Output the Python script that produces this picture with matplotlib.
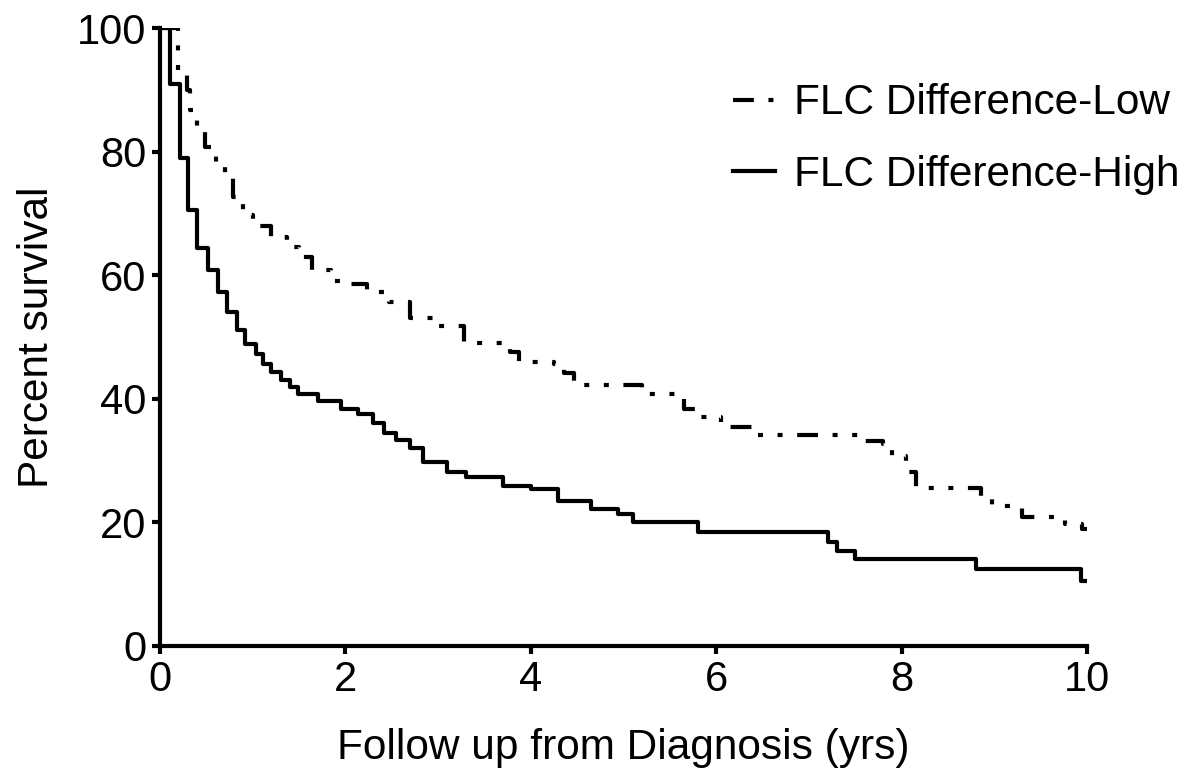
import matplotlib
matplotlib.use("Agg")
import matplotlib.pyplot as plt

plt.rcParams['font.family'] = ['Liberation Sans', 'DejaVu Sans']

# Kaplan-Meier step data (years, percent survival)
low_t = [0, 0.19, 0.29, 0.32, 0.40, 0.49, 0.60, 0.70, 0.79, 0.90, 1.00, 1.20, 1.37,
         1.50, 1.64, 1.84, 2.00, 2.23, 2.47, 2.70, 2.95, 3.28, 3.78, 3.87, 4.25, 4.36,
         4.47, 5.20, 5.65, 5.84, 6.05, 6.40, 7.57, 7.80, 7.90, 8.05, 8.15, 8.86, 8.97,
         9.30, 9.76, 9.95, 10.0]
low_s = [100, 93.2, 90.0, 86.7, 83.8, 80.8, 77.9, 75.9, 72.7, 69.8, 67.9, 66.2, 64.6,
         63.0, 60.9, 59.0, 58.5, 57.2, 55.7, 53.1, 51.7, 49.1, 47.5, 46.0, 45.6, 44.2,
         42.3, 40.7, 38.3, 37.0, 35.5, 34.2, 33.1, 32.6, 30.7, 28.1, 25.5, 24.3, 22.6,
         20.8, 19.7, 18.9, 18.9]

high_t = [0, 0.11, 0.22, 0.30, 0.40, 0.52, 0.63, 0.72, 0.83, 0.92, 1.03, 1.11, 1.20,
          1.30, 1.40, 1.49, 1.70, 1.95, 2.13, 2.30, 2.42, 2.55, 2.70, 2.84, 3.10, 3.30,
          3.70, 4.00, 4.29, 4.65, 4.94, 5.10, 5.80, 7.20, 7.30, 7.50, 8.80, 9.93, 10.0]
high_s = [100, 91.0, 79.0, 70.6, 64.4, 60.9, 57.2, 54.1, 51.2, 48.8, 47.2, 45.6, 44.3,
          43.1, 41.9, 40.7, 39.6, 38.3, 37.5, 36.0, 34.5, 33.4, 32.0, 29.7, 28.1, 27.3,
          25.9, 25.4, 23.4, 22.1, 21.3, 20.0, 18.4, 16.8, 15.3, 14.0, 12.4, 10.5, 10.5]

labels = ['FLC Difference-Low', 'FLC Difference-High']

fig = plt.figure(figsize=(11.9, 7.8), dpi=100)
ax = fig.add_axes([0.1345, 0.172, 0.779, 0.792])

ax.plot(low_t, low_s, drawstyle='steps-post', color='black', lw=3,
        linestyle=(0, (5, 3.5, 1.2, 3.5, 1.2, 3.5)), label=labels[0])
ax.plot(high_t, high_s, drawstyle='steps-post', color='black', lw=3,
        linestyle='-', label=labels[1])

ax.set_xlim(0, 10)
ax.set_ylim(0, 100)
ax.set_xticks(range(0, 11, 2))
ax.set_yticks(range(0, 101, 20))
for s in ['top', 'right']:
    ax.spines[s].set_visible(False)
for s in ['left', 'bottom']:
    ax.spines[s].set_linewidth(3)
ax.tick_params(width=3, length=6, labelsize=30, pad=4)

ax.set_xlabel('Follow up from Diagnosis (yrs)', fontsize=30.5, labelpad=20)
ax.set_ylabel('Percent survival', fontsize=30.5, labelpad=14)

leg = ax.legend(loc='upper left', bbox_to_anchor=(0.616, 0.893),
                bbox_transform=fig.transFigure, frameon=False, fontsize=30.5,
                handlelength=1.0, handletextpad=0.45, labelspacing=0.75,
                borderpad=0, borderaxespad=0)

fig.savefig('out.png', dpi=100)
